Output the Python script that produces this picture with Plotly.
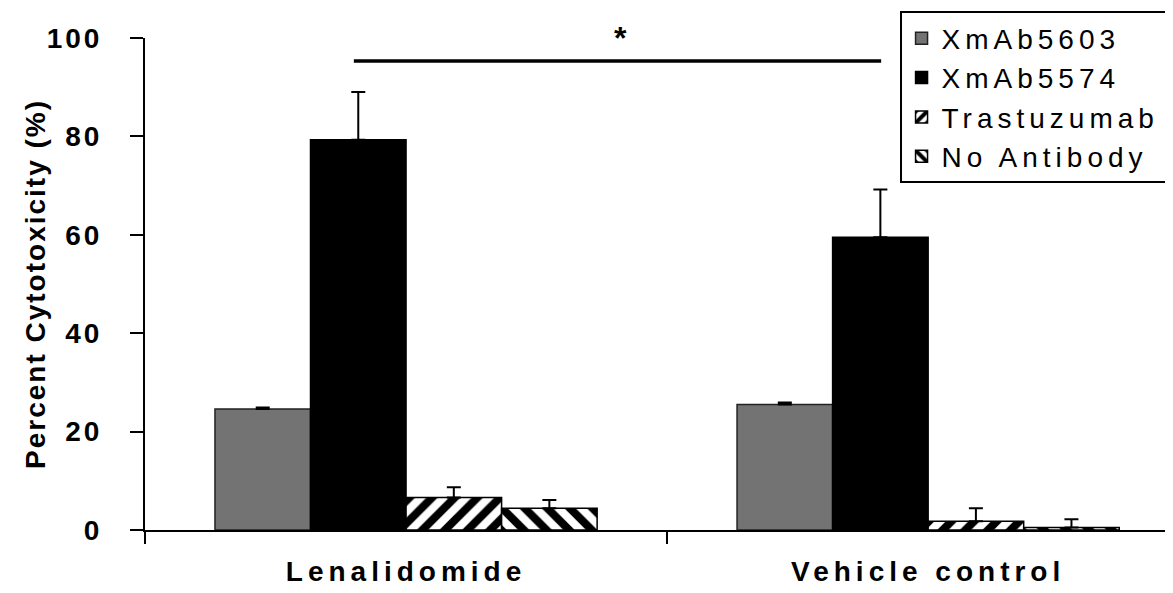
import plotly.graph_objects as go

# ---- data ----
categories = ["Lenalidomide", "Vehicle control"]
series_names = ["XmAb5603", "XmAb5574", "Trastuzumab", "No Antibody"]
xmab5603 = [24.6, 25.5]
xmab5603_err = [0.3, 0.4]
xmab5574 = [79.3, 59.5]
xmab5574_err = [9.7, 9.7]
trastuzumab = [6.6, 1.8]
trastuzumab_err = [2.1, 2.6]
no_antibody = [4.4, 0.5]
no_antibody_err = [1.7, 1.7]
y_ticks = [0, 20, 40, 60, 80, 100]
y_title = "Percent Cytotoxicity (%)"
sig_label = "*"
sig_level = 95.3

values = [xmab5603, xmab5574, trastuzumab, no_antibody]
errors = [xmab5603_err, xmab5574_err, trastuzumab_err, no_antibody_err]

FONT = "Arial, 'Liberation Sans', sans-serif"

styles = [
    dict(color="#737373", line=dict(color="#222222", width=1.5)),
    dict(color="#000000", line=dict(color="#000000", width=1.5)),
    dict(color="#000000", line=dict(color="#000000", width=1.5),
         pattern=dict(shape="/", fgcolor="#000000", bgcolor="#ffffff", fgopacity=1,
                      size=16, solidity=0.5, fillmode="replace")),
    dict(color="#000000", line=dict(color="#000000", width=1.5),
         pattern=dict(shape="\\", fgcolor="#000000", bgcolor="#ffffff", fgopacity=1,
                      size=16, solidity=0.5, fillmode="replace")),
]


def spaced(text, px):
    return f'<span style="letter-spacing:{px}px">{text}</span>'


fig = go.Figure()
for name, vals, errs, st in zip(series_names, values, errors, styles):
    fig.add_trace(go.Bar(
        x=categories, y=vals, name=spaced(name, 5),
        marker=st,
        error_y=dict(type="data", array=errs, arrayminus=[0] * len(errs), symmetric=False,
                     color="#000000", thickness=2, width=7),
    ))

# significance bracket
fig.add_shape(type="line", xref="x", yref="y", x0=-0.1, x1=0.91, y0=sig_level, y1=sig_level,
              line=dict(color="#000000", width=3.5))
fig.add_annotation(x=0.41, y=100, xref="x", yref="y", text=sig_label, showarrow=False,
                   font=dict(family=FONT, size=32, color="#000000", weight="bold"),
                   yanchor="middle")

# y-axis title
fig.add_annotation(x=0, y=0.5, xref="paper", yref="paper", text=spaced(y_title, 2),
                   showarrow=False, textangle=-90, xanchor="center", yanchor="middle",
                   xshift=-110,
                   font=dict(family=FONT, size=28, color="#000000", weight="bold"))

fig.update_layout(
    width=1165, height=585,
    margin=dict(l=137, r=0, t=30, b=63),
    paper_bgcolor="#ffffff", plot_bgcolor="#ffffff",
    barmode="group", bargap=0.268, bargroupgap=0,
    font=dict(family=FONT, color="#000000"),
    showlegend=True,
    legend=dict(
        x=0.734, y=1.054, xanchor="left", yanchor="top",
        bgcolor="#ffffff", bordercolor="#000000", borderwidth=2,
        font=dict(family=FONT, size=28, color="#000000"),
        tracegroupgap=0, itemwidth=30,
    ),
)

fig.update_xaxes(
    type="category", range=[-0.5, 1.469],
    showline=True, linecolor="#000000", linewidth=1.5,
    ticks="outside", tickson="boundaries", ticklen=12, tickwidth=1.5, tickcolor="#000000",
    tickvals=categories, ticktext=[spaced(c, 5) for c in categories],
    tickfont=dict(family=FONT, size=28, color="#000000", weight="bold"),
    ticklabelstandoff=16,
    showgrid=False, zeroline=False,
)
fig.update_yaxes(
    range=[0, 100],
    showline=True, linecolor="#000000", linewidth=2,
    ticks="outside", ticklen=13, tickwidth=1.5, tickcolor="#000000",
    tickvals=y_ticks, ticktext=[spaced(str(v), 3) for v in y_ticks],
    tickfont=dict(family=FONT, size=28, color="#000000", weight="bold"),
    ticklabelstandoff=22,
    showgrid=False, zeroline=False,
)

fig.write_html("out.html")
